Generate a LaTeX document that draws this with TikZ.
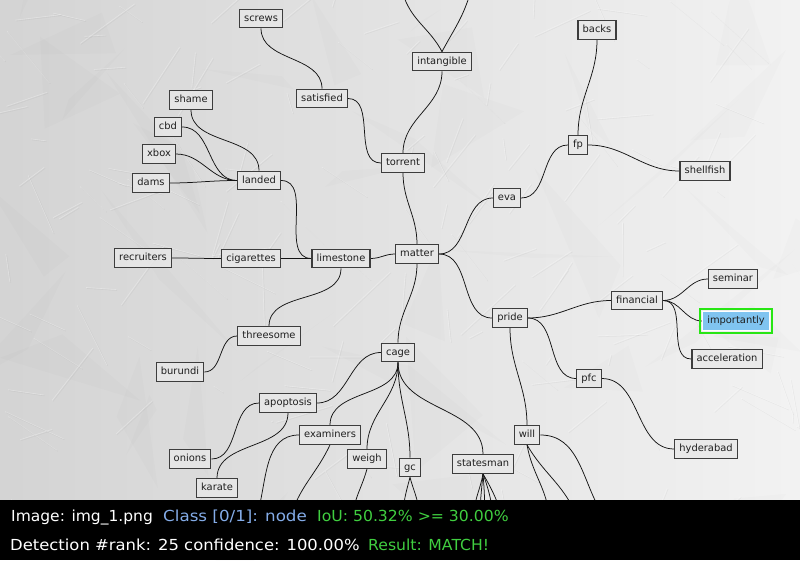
\documentclass[tikz,border=0pt]{standalone}
\usepackage{fontspec}
\usepackage{graphicx}
\setmainfont{DejaVu Sans}
\definecolor{hudblue}{RGB}{132,172,232}
\definecolor{hudgreen}{RGB}{64,206,64}
\definecolor{hitgreen}{RGB}{40,230,20}
\definecolor{hitblue}{RGB}{128,196,240}
\pgfdeclarelayer{paper}
\pgfdeclarelayer{links}
\pgfsetlayers{paper,links,main}
\begin{document}
\begin{tikzpicture}[x=1pt,y=1pt,
  word/.style={draw=black!76, line width=1.2pt, fill=black!9, fill opacity=0.8,
    text opacity=1, text=black!88, inner xsep=4.6pt, inner ysep=0pt,
    minimum height=18.5pt, text height=7.6pt, text depth=2.1pt,
    font=\fontsize{9.9}{11}\selectfont},
  link/.style={draw=black!92, line width=0.75pt},
  sidebend/.style={out=0, in=180},
  dropbend/.style={out=-90, in=90},
  hud/.style={anchor=base west, inner sep=0pt, font=\fontsize{15.2}{17}\selectfont}]
\useasboundingbox (0,0) rectangle (800,-560);

% crumpled paper
\begin{pgfonlayer}{paper}
\shade[left color=black!17, right color=black!5] (0,0) rectangle (800,-500);
\pgfmathsetseed{42}
\foreach \k in {1,...,40}{
  \pgfmathsetmacro\xa{rnd*800}\pgfmathsetmacro\ya{-rnd*500}
  \pgfmathsetmacro\xb{\xa+(rnd-0.5)*200}\pgfmathsetmacro\yb{\ya+(rnd-0.5)*200}
  \pgfmathsetmacro\xc{\xa+(rnd-0.5)*200}\pgfmathsetmacro\yc{\ya+(rnd-0.5)*200}
  \fill[black, opacity=0.012] (\xa,\ya) -- (\xb,\yb) -- (\xc,\yc) -- cycle;
}
\foreach \k in {1,...,160}{
  \pgfmathsetmacro\xa{rnd*800}\pgfmathsetmacro\ya{-rnd*500}
  \pgfmathsetmacro\xb{\xa+(rnd-0.5)*120}\pgfmathsetmacro\yb{\ya+(rnd-0.5)*120}
  \draw[white, opacity=0.3, line width=0.6pt] (\xa,\ya) -- (\xb,\yb);
  \draw[black, opacity=0.04, line width=0.6pt] (\xa+1,\ya-1) -- (\xb+1,\yb-1);
}
\end{pgfonlayer}

% words
\node[word] (screws) at (261,-18.5) {screws};
\node[word] (satisfied) at (322,-98.5) {satisfied};
\node[word] (intangible) at (442,-61.5) {intangible};
\node[word] (torrent) at (403,-163) {torrent};
\node[word] (shame) at (191,-100) {shame};
\node[word] (cbd) at (168,-127) {cbd};
\node[word] (xbox) at (159,-154) {xbox};
\node[word] (dams) at (151,-183) {dams};
\node[word] (landed) at (259,-180.5) {landed};
\node[word] (recruiters) at (143,-258) {recruiters};
\node[word] (cigarettes) at (251,-258.5) {cigarettes};
\node[word] (limestone) at (341,-258.5) {limestone};
\node[word] (matter) at (417,-254) {matter};
\node[word] (threesome) at (269,-336) {threesome};
\node[word] (burundi) at (180,-372) {burundi};
\node[word] (cage) at (398,-352.5) {cage};
\node[word] (apoptosis) at (288,-403) {apoptosis};
\node[word] (onions) at (190,-459) {onions};
\node[word] (karate) at (217,-488) {karate};
\node[word] (examiners) at (330,-435) {examiners};
\node[word] (weigh) at (367,-459) {weigh};
\node[word] (gc) at (410,-467.5) {gc};
\node[word] (statesman) at (483,-464) {statesman};
\node[word] (will) at (527,-435) {will};
\node[word] (pride) at (510,-318) {pride};
\node[word] (pfc) at (589,-378.5) {pfc};
\node[word] (hyderabad) at (706,-449) {hyderabad};
\node[word] (financial) at (637,-300.5) {financial};
\node[word] (seminar) at (733,-279) {seminar};
\node[word, draw=white, line width=0.8pt, fill=hitblue, fill opacity=1] (importantly) at (736,-321) {importantly};
\draw[hitgreen, line width=2.4pt] ([shift={(-2.2,2.2)}]importantly.north west) rectangle ([shift={(2.2,-2.2)}]importantly.south east);
\node[word] (acceleration) at (727,-359) {acceleration};
\node[word] (eva) at (507,-198) {eva};
\node[word] (fp) at (578,-145) {fp};
\node[word] (backs) at (597,-30) {backs};
\node[word] (shellfish) at (705,-171) {shellfish};

% branch ends outside the sheet
\coordinate (upa) at (404,3);
\coordinate (upb) at (469,3);
\coordinate (exa) at (258,-512);
\coordinate (exb) at (292,-512);
\coordinate (wga) at (353,-512);
\coordinate (gca) at (403,-512);
\coordinate (gcb) at (419,-512);
\coordinate (sta) at (474,-512);
\coordinate (stb) at (480,-512);
\coordinate (stc) at (485,-512);
\coordinate (std) at (493,-512);
\coordinate (ste) at (501,-512);
\coordinate (wla) at (549,-512);
\coordinate (wlb) at (575,-512);
\coordinate (wlc) at (601,-512);

% links, kept under the word boxes
\begin{pgfonlayer}{links}
\begin{scope}[link]
\draw (screws.south) to[dropbend] (satisfied.north);
\draw (satisfied.east) to[sidebend] (torrent.west);
\draw (intangible.south) to[dropbend] (torrent.north);
\draw (torrent.south) to[dropbend] (matter.north);
\draw (upa) to[out=-70, in=118] (intangible.north);
\draw (upb) to[out=-108, in=62] (intangible.north);
\draw (shame.south) to[dropbend] (landed.north);
\draw (cbd.east) to[sidebend] (landed.west);
\draw (xbox.east) to[sidebend] (landed.west);
\draw (dams.east) to[sidebend] (landed.west);
\draw (landed.east) to[sidebend] (limestone.west);
\draw (recruiters.east) to[sidebend] (cigarettes.west);
\draw (cigarettes.east) to[sidebend] (limestone.west);
\draw (limestone.east) to[sidebend] (matter.west);
\draw (limestone.south) to[dropbend] (threesome.north);
\draw (burundi.east) to[sidebend] (threesome.west);
\draw (matter.south) to[dropbend] (cage.north);
\draw (apoptosis.east) to[sidebend] (cage.west);
\draw (onions.east) to[sidebend] (apoptosis.west);
\draw (apoptosis.south) to[dropbend] (karate.north);
\draw (cage.south) to[dropbend] (examiners.north);
\draw (cage.south) to[dropbend] (weigh.north);
\draw (cage.south) to[dropbend] (gc.north);
\draw (cage.south) to[dropbend] (statesman.north);
\draw (examiners.west) to[out=180, in=75] (exa);
\draw (examiners.south) to[out=-115, in=70] (exb);
\draw (weigh.south) to[out=-105, in=80] (wga);
\draw (gc.south) to[out=-105, in=85] (gca);
\draw (gc.south) to[out=-75, in=95] (gcb);
\draw (statesman.south) to[out=-100, in=85] (sta);
\draw (statesman.south) to[out=-95, in=88] (stb);
\draw (statesman.south) to[out=-85, in=92] (stc);
\draw (statesman.south) to[out=-70, in=100] (std);
\draw (statesman.south) to[out=-60, in=110] (ste);
\draw (matter.east) to[sidebend] (eva.west);
\draw (eva.east) to[sidebend] (fp.west);
\draw (backs.south) to[dropbend] (fp.north);
\draw (fp.east) to[sidebend] (shellfish.west);
\draw (matter.east) to[sidebend] (pride.west);
\draw (pride.east) to[sidebend] (financial.west);
\draw (pride.east) to[sidebend] (pfc.west);
\draw (pride.south) to[dropbend] (will.north);
\draw (pfc.east) to[sidebend] (hyderabad.west);
\draw (financial.east) to[sidebend] (seminar.west);
\draw (financial.east) to[sidebend] (importantly.west);
\draw (financial.east) to[sidebend] (acceleration.west);
\draw (will.south) to[out=-80, in=100] (wla);
\draw (will.south) to[out=-60, in=115] (wlb);
\draw (will.east) to[out=0, in=120] (wlc);
\end{scope}
\end{pgfonlayer}

% status strip
\fill[black] (0,-500) rectangle (800,-560);
\node[hud, text=white] (lineA) at (11,-521) {\scalebox{1.02}[1]{Image: img\_1.png}};
\node[hud, text=hudblue] (lineB) at (163,-521) {\scalebox{1.1}[1]{Class [0/1]: node}};
\node[hud, text=hudgreen] (lineC) at (317,-521) {\scalebox{1.03}[1]{IoU: 50.32\% >= 30.00\%}};
\node[hud, text=white] (lineD) at (10,-550) {\scalebox{1.08}[1]{Detection \#rank: 25 confidence: 100.00\%}};
\node[hud, text=hudgreen] (lineE) at (368,-550) {\scalebox{1.03}[1]{Result: MATCH!}};
\end{tikzpicture}
\end{document}
